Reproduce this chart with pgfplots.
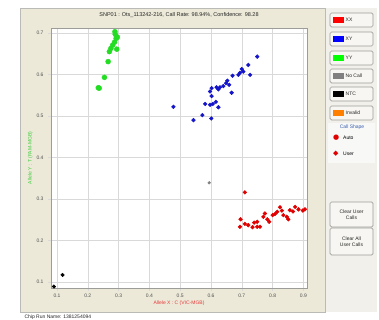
\documentclass[border=0pt]{standalone}
\usepackage{pgfplots}
\pgfplotsset{compat=1.18}
\usepackage{fontspec}
\setmainfont{Liberation Sans}
\newfontfamily\symfont{DejaVu Sans}
\definecolor{panelbg}{HTML}{ECE9D8}
\definecolor{rightbg}{HTML}{F1F0EB}
\definecolor{btnfill}{HTML}{F7F6F2}
\definecolor{btnline}{HTML}{9C9C98}
\definecolor{ptgreen}{HTML}{22DD22}
\definecolor{ptblue}{HTML}{1414C8}
\definecolor{ptred}{HTML}{E00000}
\definecolor{lblred}{HTML}{E83A3A}
\definecolor{lblgreen}{HTML}{3CCB3C}
\definecolor{gridc}{HTML}{D9D9D9}
\definecolor{tickc}{HTML}{505050}
\definecolor{shapeblue}{HTML}{3A5FB0}

\pgfplotstableread{
x y
0.288 0.703
0.292 0.687
0.296 0.690
0.289 0.697
0.287 0.678
0.281 0.671
0.275 0.663
0.270 0.655
0.294 0.661
0.266 0.631
0.254 0.593
0.237 0.567
0.234 0.568
}\greendata

\pgfplotstableread{
x y
0.750 0.643
0.721 0.623
0.700 0.613
0.694 0.604
0.705 0.607
0.727 0.599
0.689 0.599
0.670 0.597
0.653 0.585
0.649 0.579
0.659 0.575
0.640 0.572
0.629 0.569
0.624 0.564
0.618 0.569
0.602 0.567
0.597 0.559
0.667 0.556
0.602 0.548
0.616 0.534
0.606 0.529
0.581 0.529
0.597 0.527
0.624 0.521
0.478 0.522
0.572 0.502
0.543 0.490
0.601 0.494
}\bluedata

\pgfplotstableread{
x y
0.710 0.316
0.696 0.251
0.694 0.233
0.710 0.240
0.721 0.237
0.735 0.232
0.740 0.243
0.750 0.245
0.759 0.233
0.750 0.233
0.775 0.265
0.770 0.257
0.783 0.251
0.789 0.245
0.800 0.261
0.808 0.264
0.815 0.269
0.824 0.280
0.830 0.272
0.835 0.261
0.846 0.257
0.851 0.251
0.856 0.273
0.866 0.270
0.873 0.281
0.884 0.275
0.898 0.272
0.905 0.275
}\reddata

\begin{document}
\begin{tikzpicture}[x=1pt,y=1pt]
\path[use as bounding box] (0,0) rectangle (379,320);
\fill[white] (0,0) rectangle (379,320);
\fill[panelbg] (20,8) rectangle (325,312);
\fill[rightbg] (325,8) rectangle (377,312);
\draw[btnline!70, line width=0.6] (20,8) rectangle (325,312);
\node[font=\fontsize{5.5}{6.5}\selectfont, text=black!85] at (179,305) {SNP01 : Ots\_113242-216, Call Rate: 98.94\%, Confidence: 98.28};
\node[font=\fontsize{5}{6}\selectfont, anchor=west, text=black!85] at (21,3) {Chip Run Name: 1381254094};

\begin{axis}[
  at={(51pt,32pt)}, anchor=south west,
  scale only axis, width=256pt, height=260pt,
  xmin=0.0805, xmax=0.9117, ymin=0.0855, ymax=0.712,
  xtick={0.1,0.2,0.3,0.4,0.5,0.6,0.7,0.8,0.9},
  ytick={0.1,0.2,0.3,0.4,0.5,0.6,0.7},
  xticklabels={0.1,0.2,0.3,0.4,0.5,0.6,0.7,0.8,0.9},
  yticklabels={0.1,0.2,0.3,0.4,0.5,0.6,0.7},
  grid=major,
  major grid style={gridc, line width=0.6pt},
  axis line style={btnline, line width=0.6pt},
  tick pos=left, tick align=outside, major tick length=3pt,
  tick style={gridc, line width=0.6pt},
  axis background/.style={fill=white},
  ticklabel style={font=\fontsize{5}{6}\selectfont, text=tickc},
  xticklabel style={yshift=1pt},
  yticklabel style={xshift=-1pt},
  xlabel={Allele X : C (VIC-MGB)},
  ylabel={Allele Y : T (FAM-MGB)},
  xlabel style={font=\fontsize{5}{6}\selectfont, text=lblred, yshift=3pt},
  ylabel style={font=\fontsize{5}{6}\selectfont, text=lblgreen, yshift=-3pt},
  clip=false,
]
\addplot[only marks, mark=*, mark size=2.5pt, mark options={fill=ptgreen, draw=ptgreen}] table {\greendata};
\addplot[only marks, mark=*, mark size=1.9pt, mark options={fill=ptblue, draw=ptblue}] table {\bluedata};
\addplot[only marks, mark=*, mark size=1.9pt, mark options={fill=ptred, draw=ptred}] table {\reddata};
\addplot[only marks, mark=*, mark size=1.4pt, mark options={fill=gray, draw=gray}] coordinates {(0.594,0.339)};
\addplot[only marks, mark=*, mark size=1.8pt, mark options={fill=black, draw=black}] coordinates {(0.118,0.117) (0.090,0.089)};
\end{axis}

% right panel buttons
\tikzset{btn/.style={draw=btnline, fill=btnfill, rounded corners=1.5pt, line width=0.7pt}}
\foreach \yt/\yb/\col/\txt in {307/293/red/XX, 288/274/blue/XY, 269/255/green/YY, 251/237/gray/No Call, 233/219/black/NTC, 214/200/orange/Invalid}{
  \draw[btn] (330,\yb) rectangle (373,\yt);
  \fill[\col] (333,{(\yt+\yb)/2-3}) rectangle (344,{(\yt+\yb)/2+3});
  \node[anchor=west, font=\fontsize{5}{6}\selectfont, inner sep=0pt, text=black!85] at (345.5,{(\yt+\yb)/2}) {\txt};
}
\fill[rightbg!80!gray!20] (328,157) rectangle (375,197);
\node[font=\fontsize{5}{6}\selectfont, text=shapeblue] at (352,193) {Call Shape};
\node[anchor=west, font=\symfont\fontsize{7}{7}\selectfont, text=ptred, inner sep=0pt] at (333,182) {●};
\node[anchor=west, font=\fontsize{5}{6}\selectfont, inner sep=0pt] at (343,182) {Auto};
\node[anchor=west, font=\symfont\fontsize{7}{7}\selectfont, text=ptred, inner sep=0pt] at (333,166) {◆};
\node[anchor=west, font=\fontsize{5}{6}\selectfont, inner sep=0pt] at (343,166) {User};
\draw[btn] (330,93) rectangle (373,118);
\node[align=center, font=\fontsize{5}{6}\selectfont, text=black!85] at (351.5,105.5) {Clear User\\Calls};
\draw[btn] (330,65) rectangle (373,92);
\node[align=center, font=\fontsize{5}{6}\selectfont, text=black!85] at (351.5,78.5) {Clear All\\User Calls};
\end{tikzpicture}
\end{document}
